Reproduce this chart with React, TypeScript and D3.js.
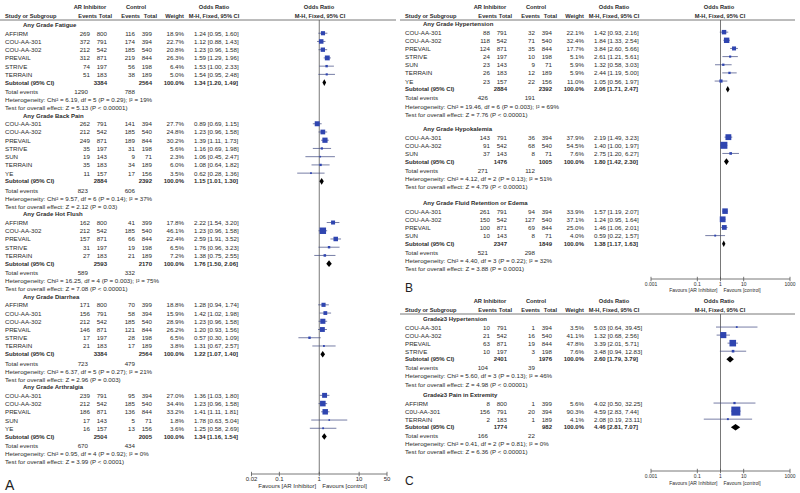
import React from "react";
import * as d3 from "d3";

type Row = [string, number, number, number, number, number, number, number, number];
// [study, AR events, AR total, control events, control total, weight %, OR, lower, upper]

// ---------------- Panel A ----------------
const fatigueStudies: Row[] = [
  ["AFFIRM", 269, 800, 116, 399, 18.9, 1.24, 0.95, 1.6],
  ["COU-AA-301", 372, 791, 174, 394, 22.7, 1.12, 0.88, 1.43],
  ["COU-AA-302", 212, 542, 185, 540, 20.8, 1.23, 0.96, 1.58],
  ["PREVAIL", 312, 871, 219, 844, 26.3, 1.59, 1.29, 1.96],
  ["STRIVE", 74, 197, 56, 198, 6.4, 1.53, 1.0, 2.33],
  ["TERRAIN", 51, 183, 38, 189, 5.0, 1.54, 0.95, 2.48],
];
const backPainStudies: Row[] = [
  ["COU-AA-301", 262, 791, 141, 394, 27.7, 0.89, 0.69, 1.15],
  ["COU-AA-302", 212, 542, 185, 540, 24.8, 1.23, 0.96, 1.58],
  ["PREVAIL", 249, 871, 189, 844, 30.2, 1.39, 1.11, 1.73],
  ["STRIVE", 35, 197, 31, 198, 5.6, 1.16, 0.69, 1.98],
  ["SUN", 19, 143, 9, 71, 2.3, 1.06, 0.45, 2.47],
  ["TERRAIN", 35, 183, 34, 189, 6.0, 1.08, 0.64, 1.82],
  ["YE", 11, 157, 17, 156, 3.5, 0.62, 0.28, 1.36],
];
const hotFlushStudies: Row[] = [
  ["AFFIRM", 162, 800, 41, 399, 17.8, 2.22, 1.54, 3.2],
  ["COU-AA-302", 212, 542, 185, 540, 46.1, 1.23, 0.96, 1.58],
  ["PREVAIL", 157, 871, 66, 844, 22.4, 2.59, 1.91, 3.52],
  ["STRIVE", 31, 197, 19, 198, 6.5, 1.76, 0.96, 3.23],
  ["TERRAIN", 27, 183, 21, 189, 7.2, 1.38, 0.75, 2.55],
];
const diarrheaStudies: Row[] = [
  ["AFFIRM", 171, 800, 70, 399, 18.8, 1.28, 0.94, 1.74],
  ["COU-AA-301", 156, 791, 58, 394, 15.9, 1.42, 1.02, 1.98],
  ["COU-AA-302", 212, 542, 185, 540, 28.9, 1.23, 0.96, 1.58],
  ["PREVAIL", 146, 871, 121, 844, 26.2, 1.2, 0.93, 1.56],
  ["STRIVE", 17, 197, 28, 198, 6.5, 0.57, 0.3, 1.09],
  ["TERRAIN", 21, 183, 17, 189, 3.8, 1.31, 0.67, 2.57],
];
const arthralgiaStudies: Row[] = [
  ["COU-AA-301", 239, 791, 95, 394, 27.0, 1.36, 1.03, 1.8],
  ["COU-AA-302", 212, 542, 185, 540, 34.4, 1.23, 0.96, 1.58],
  ["PREVAIL", 186, 871, 136, 844, 33.2, 1.41, 1.11, 1.81],
  ["SUN", 17, 143, 5, 71, 1.8, 1.78, 0.63, 5.04],
  ["YE", 16, 157, 13, 156, 3.6, 1.25, 0.58, 2.69],
];

// ---------------- Panel B ----------------
const hypertensionStudies: Row[] = [
  ["COU-AA-301", 88, 791, 32, 394, 22.1, 1.42, 0.93, 2.16],
  ["COU-AA-302", 118, 542, 71, 540, 32.4, 1.84, 1.33, 2.54],
  ["PREVAIL", 124, 871, 35, 844, 17.7, 3.84, 2.6, 5.66],
  ["STRIVE", 24, 197, 10, 198, 5.1, 2.61, 1.21, 5.61],
  ["SUN", 23, 143, 9, 71, 5.9, 1.32, 0.58, 3.03],
  ["TERRAIN", 26, 183, 12, 189, 5.9, 2.44, 1.19, 5.0],
  ["YE", 23, 157, 22, 156, 11.0, 1.05, 0.56, 1.97],
];
const hypokalemiaStudies: Row[] = [
  ["COU-AA-301", 143, 791, 36, 394, 37.9, 2.19, 1.49, 3.23],
  ["COU-AA-302", 91, 542, 68, 540, 54.5, 1.4, 1.0, 1.97],
  ["SUN", 37, 143, 8, 71, 7.6, 2.75, 1.2, 6.27],
];
const edemaStudies: Row[] = [
  ["COU-AA-301", 261, 791, 94, 394, 33.9, 1.57, 1.19, 2.07],
  ["COU-AA-302", 150, 542, 127, 540, 37.1, 1.24, 0.95, 1.64],
  ["PREVAIL", 100, 871, 69, 844, 25.0, 1.46, 1.06, 2.01],
  ["SUN", 10, 143, 8, 71, 4.0, 0.59, 0.22, 1.57],
];

// ---------------- Panel C ----------------
const g3HypertensionStudies: Row[] = [
  ["COU-AA-301", 10, 791, 1, 394, 3.5, 5.03, 0.64, 39.45],
  ["COU-AA-302", 21, 542, 16, 540, 41.1, 1.32, 0.68, 2.56],
  ["PREVAIL", 63, 871, 19, 844, 47.8, 3.39, 2.01, 5.71],
  ["STRIVE", 10, 197, 3, 198, 7.6, 3.48, 0.94, 12.83],
];
const g3PainStudies: Row[] = [
  ["AFFIRM", 8, 800, 1, 399, 5.6, 4.02, 0.5, 32.25],
  ["C0U-AA-301", 156, 791, 20, 394, 90.3, 4.59, 2.83, 7.44],
  ["TERRAIN", 2, 183, 1, 189, 4.1, 2.08, 0.19, 23.11],
];

// subtotal: [AR total, control total, OR, lower, upper]; events: [AR, control]
// het: [Chi², df, P, I²]; test: [Z, P]
type Group = {
  title: string;
  studies: Row[];
  subtotal: number[];
  events: number[];
  het: [number, number, string, number];
  test: [number, string];
};

const panelAGroups: Group[] = [
  { title: "Any Grade Fatigue", studies: fatigueStudies, subtotal: [3384, 2564, 1.34, 1.2, 1.49], events: [1290, 788], het: [6.19, 5, "= 0.29", 19], test: [5.13, "< 0.00001"] },
  { title: "Any Grade Back Pain", studies: backPainStudies, subtotal: [2884, 2392, 1.15, 1.01, 1.3], events: [823, 606], het: [9.57, 6, "= 0.14", 37], test: [2.12, "= 0.03"] },
  { title: "Any Grade Hot Flush", studies: hotFlushStudies, subtotal: [2593, 2170, 1.76, 1.5, 2.06], events: [589, 332], het: [16.25, 4, "= 0.003", 75], test: [7.08, "< 0.00001"] },
  { title: "Any Grade Diarrhea", studies: diarrheaStudies, subtotal: [3384, 2564, 1.22, 1.07, 1.4], events: [723, 479], het: [6.37, 5, "= 0.27", 21], test: [2.96, "= 0.003"] },
  { title: "Any Grade Arthralgia", studies: arthralgiaStudies, subtotal: [2504, 2005, 1.34, 1.16, 1.54], events: [670, 434], het: [0.95, 4, "= 0.92", 0], test: [3.99, "< 0.0001"] },
];
const panelBGroups: Group[] = [
  { title: "Any Grade Hypertension", studies: hypertensionStudies, subtotal: [2884, 2392, 2.06, 1.71, 2.47], events: [426, 191], het: [19.46, 6, "= 0.003", 69], test: [7.76, "< 0.00001"] },
  { title: "Any Grade Hypokalemia", studies: hypokalemiaStudies, subtotal: [1476, 1005, 1.8, 1.42, 2.3], events: [271, 112], het: [4.12, 2, "= 0.13", 51], test: [4.79, "< 0.00001"] },
  { title: "Any Grade Fluid Retention or Edema", studies: edemaStudies, subtotal: [2347, 1849, 1.38, 1.17, 1.63], events: [521, 298], het: [4.4, 3, "= 0.22", 32], test: [3.88, "= 0.0001"] },
];
const panelCGroups: Group[] = [
  { title: "Grade≥3 Hypertension", studies: g3HypertensionStudies, subtotal: [2401, 1976, 2.6, 1.79, 3.79], events: [104, 39], het: [5.6, 3, "= 0.13", 46], test: [4.98, "< 0.00001"] },
  { title: "Grade≥3 Pain in Extremity", studies: g3PainStudies, subtotal: [1774, 982, 4.46, 2.81, 7.07], events: [166, 22], het: [0.41, 2, "= 0.81", 0], test: [6.36, "< 0.00001"] },
];

const ticksA = [0.02, 0.1, 1, 10, 50];
const ticksBC = [0.001, 0.1, 1, 10, 1000];
const favLeft = "Favours [AR Inhibitor]";
const favRight = "Favours [control]";

// ---------------- Rendering ----------------
const FONT = "'Liberation Sans', Arial, Helvetica, sans-serif";
const TXT = "#2b2b2b";
const BLUE = "#2f45b0";
const LINE = "#3c4680";
const FS = 6.2;
const HFS = 5.7;

const fmtCI = (o: number, l: number, h: number) => `${o.toFixed(2)} [${l.toFixed(2)}, ${h.toFixed(2)}]`;
const tickFmt = (v: number) => String(v);

type PanelProps = {
  ox: number;
  headerY: number;
  starts: number[];
  pitch: number;
  groups: Group[];
  domain: [number, number];
  range: [number, number];
  ticks: number[];
  axisY: number;
  tickLabelY: number;
  favY: number;
  axisFont: number;
  letter: string;
  letterY: number;
  letterSize: number;
  lineRight: number;
};

function Panel(p: PanelProps) {
  const x = d3.scaleLog().domain(p.domain).range(p.range);
  const ox = p.ox;
  const T = (
    key: string,
    tx: number,
    ty: number,
    s: string,
    anchor: "start" | "middle" | "end" = "start",
    bold = false,
    size = FS
  ) => (
    <text
      key={key}
      x={tx}
      y={ty}
      fontSize={size}
      fontWeight={bold ? "bold" : "normal"}
      textAnchor={anchor}
      dominantBaseline="central"
      fill={TXT}
    >
      {s}
    </text>
  );

  const els: React.ReactNode[] = [];
  const hy1 = p.headerY;
  const hy2 = p.headerY + 8.5;
  const lineY = p.headerY + 13;
  els.push(T("h1", ox + 90, hy1, "AR Inhibitor", "middle", true, HFS));
  els.push(T("h2", ox + 136, hy1, "Control", "middle", true, HFS));
  els.push(T("h3", ox + 214, hy1, "Odds Ratio", "middle", true, HFS));
  els.push(T("h4", ox + 319, hy1, "Odds Ratio", "middle", true, HFS));
  els.push(T("s1", ox + 5, hy2, "Study or Subgroup", "start", true, HFS));
  els.push(T("s2", ox + 97, hy2, "Events", "end", true, HFS));
  els.push(T("s3", ox + 112, hy2, "Total", "end", true, HFS));
  els.push(T("s4", ox + 140, hy2, "Events", "end", true, HFS));
  els.push(T("s5", ox + 157, hy2, "Total", "end", true, HFS));
  els.push(T("s6", ox + 184, hy2, "Weight", "end", true, HFS));
  els.push(T("s7", ox + 214, hy2, "M-H, Fixed, 95% CI", "middle", true, HFS));
  els.push(T("s8", ox + 320, hy2, "M-H, Fixed, 95% CI", "middle", true, HFS));
  els.push(<line key="hl" x1={ox} x2={ox + p.lineRight} y1={lineY} y2={lineY} stroke="#555" strokeWidth={0.8} />);
  els.push(<line key="vl" x1={x(1)} x2={x(1)} y1={lineY} y2={p.axisY} stroke="#555" strokeWidth={0.8} />);

  p.groups.forEach((g, gi) => {
    const y0 = p.starts[gi];
    const Y = (i: number) => y0 + i * p.pitch;
    els.push(T(`g${gi}t`, ox + 23, Y(0), g.title, "start", true, 6));
    g.studies.forEach((r, si) => {
      const yy = Y(si + 1);
      const [name, e1, n1, e2, n2, w, o, lo, hi] = r;
      const k = `g${gi}s${si}`;
      els.push(T(k + "n", ox + 5, yy, name));
      els.push(T(k + "a", ox + 90, yy, String(e1), "end"));
      els.push(T(k + "b", ox + 107, yy, String(n1), "end"));
      els.push(T(k + "c", ox + 135, yy, String(e2), "end"));
      els.push(T(k + "d", ox + 152, yy, String(n2), "end"));
      els.push(T(k + "w", ox + 184, yy, `${w.toFixed(1)}%`, "end"));
      els.push(T(k + "ci", ox + 194, yy, fmtCI(o, lo, hi)));
      const s = Math.max(1.6, 0.95 * Math.sqrt(w));
      els.push(<line key={k + "l"} x1={x(lo)} x2={x(hi)} y1={yy} y2={yy} stroke={LINE} strokeWidth={0.7} />);
      els.push(<rect key={k + "r"} x={x(o) - s / 2} y={yy - s / 2} width={s} height={s} fill={BLUE} />);
    });
    const n = g.studies.length;
    const ys = Y(n + 1);
    const [t1, t2, so, slo, shi] = g.subtotal;
    els.push(T(`g${gi}st`, ox + 5, ys, "Subtotal (95% CI)", "start", true, 6));
    els.push(T(`g${gi}sb`, ox + 107, ys, String(t1), "end", true, 6));
    els.push(T(`g${gi}sd`, ox + 152, ys, String(t2), "end", true, 6));
    els.push(T(`g${gi}sw`, ox + 184, ys, "100.0%", "end", true, 6));
    els.push(T(`g${gi}sci`, ox + 194, ys, fmtCI(so, slo, shi), "start", true, 6));
    const dh = 3.3;
    els.push(
      <path
        key={`g${gi}dia`}
        d={`M${x(slo)},${ys}L${x(so)},${ys - dh}L${x(shi)},${ys}L${x(so)},${ys + dh}Z`}
        fill="#000"
      />
    );
    const yt = Y(n + 2) + 0.6;
    els.push(T(`g${gi}te`, ox + 5, yt, "Total events"));
    els.push(T(`g${gi}te1`, ox + 88, yt, String(g.events[0]), "end"));
    els.push(T(`g${gi}te2`, ox + 135, yt, String(g.events[1]), "end"));
    const [chi, df, pv, i2] = g.het;
    els.push(
      T(`g${gi}het`, ox + 5, Y(n + 3) + 0.6, `Heterogeneity: Chi² = ${chi.toFixed(2)}, df = ${df} (P ${pv}); I² = ${i2}%`)
    );
    els.push(T(`g${gi}z`, ox + 5, Y(n + 4) + 0.6, `Test for overall effect: Z = ${g.test[0].toFixed(2)} (P ${g.test[1]})`));
  });

  // axis
  els.push(<line key="ax" x1={p.range[0]} x2={p.range[1]} y1={p.axisY} y2={p.axisY} stroke="#555" strokeWidth={0.8} />);
  p.ticks.forEach((t, i) => {
    els.push(<line key={`tk${i}`} x1={x(t)} x2={x(t)} y1={p.axisY - 2.2} y2={p.axisY + 2.2} stroke="#555" strokeWidth={0.8} />);
    els.push(T(`tl${i}`, x(t), p.tickLabelY, tickFmt(t), "middle", false, p.axisFont));
  });
  els.push(T("fl", x(1) - 3, p.favY, favLeft, "end", false, p.axisFont));
  els.push(T("fr", x(1) + 3, p.favY, favRight, "start", false, p.axisFont));
  els.push(
    <text key="let" x={ox + 5} y={p.letterY} fontSize={p.letterSize} fill="#222">
      {p.letter}
    </text>
  );
  return <g>{els}</g>;
}

function contiguousStarts(groups: Group[], first: number, pitch: number) {
  const out: number[] = [];
  let y = first;
  groups.forEach((g) => {
    out.push(y);
    y += (g.studies.length + 5) * pitch;
  });
  return out;
}

export default function App() {
  const startsA = contiguousStarts(panelAGroups, 25, 8.23);
  return (
    <div style={{ position: "absolute", left: 0, top: 0 }}>
      <svg width={800} height={493} viewBox="0 0 800 493" style={{ display: "block", background: "#fff", fontFamily: FONT }}>
        <rect x={0} y={0} width={800} height={493} fill="#fff" />
        <Panel
          ox={0}
          headerY={7}
          starts={startsA}
          pitch={8.23}
          groups={panelAGroups}
          domain={[0.02, 50]}
          range={[251.5, 387]}
          ticks={ticksA}
          axisY={474}
          tickLabelY={478.8}
          favY={486}
          axisFont={6}
          letter="A"
          letterY={490}
          letterSize={14}
          lineRight={396}
        />
        <Panel
          ox={400}
          headerY={7}
          starts={[24, 129, 203]}
          pitch={8.15}
          groups={panelBGroups}
          domain={[0.001, 1000]}
          range={[651, 790]}
          ticks={ticksBC}
          axisY={279}
          tickLabelY={283.6}
          favY={289.6}
          axisFont={5}
          letter="B"
          letterY={292}
          letterSize={12}
          lineRight={395}
        />
        <Panel
          ox={400}
          headerY={301}
          starts={[319, 395]}
          pitch={8.05}
          groups={panelCGroups}
          domain={[0.001, 1000]}
          range={[651, 790]}
          ticks={ticksBC}
          axisY={471}
          tickLabelY={475.6}
          favY={482.5}
          axisFont={5}
          letter="C"
          letterY={485}
          letterSize={12}
          lineRight={395}
        />
      </svg>
    </div>
  );
}
